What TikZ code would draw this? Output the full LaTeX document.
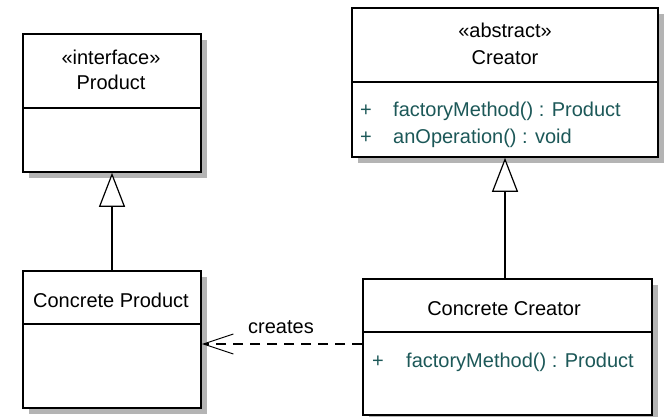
\documentclass[tikz,border=0pt]{standalone}
\usepackage{fontspec}
\setmainfont{Liberation Sans}
\usetikzlibrary{arrows.meta}
\definecolor{opcol}{RGB}{28,88,88}
\definecolor{shadowgray}{RGB}{180,180,180}
\tikzset{
  classbox/.style={draw=black, line width=1.6pt, fill=white, rectangle, inner sep=0pt},
  shadowbox/.style={fill=shadowgray},
  divider/.style={draw=black, line width=1.4pt},
  txt/.style={font=\fontsize{20}{24}\selectfont, inner sep=0pt, anchor=base},
  optxt/.style={txt, anchor=base west, text=opcol},
  inh/.style={draw=black, line width=1.4pt, -{Triangle[open, length=34pt, width=26pt, fill=white, line width=1.2pt]}},
  dep/.style={draw=black, line width=1.4pt, dash pattern=on 10pt off 7pt, -{Straight Barb[length=30pt, width=20pt, line width=1pt]}}
}
\begin{document}
\begin{tikzpicture}[x=1pt,y=-1pt]
\useasboundingbox (0,0) rectangle (669,417);
% shadows
\fill[shadowbox] (29,40) rectangle (207,178);
\fill[shadowbox] (29,277) rectangle (207,414);
\fill[shadowbox] (358,14) rectangle (664,163);
\fill[shadowbox] (369,285) rectangle (658,421);
% boxes
\node[classbox, minimum width=178pt, minimum height=138pt] (product) at (112,103) {};
\node[classbox, minimum width=178pt, minimum height=137pt] (cprod) at (112,339.5) {};
\node[classbox, minimum width=306pt, minimum height=149pt] (creator) at (505,82.5) {};
\node[classbox, minimum width=289pt, minimum height=136pt] (ccreator) at (507.5,347) {};
% dividers
\draw[divider] (product.west |- 0,108) -- (product.east |- 0,108);
\draw[divider] (cprod.west |- 0,324) -- (cprod.east |- 0,324);
\draw[divider] (creator.west |- 0,82) -- (creator.east |- 0,82);
\draw[divider] (ccreator.west |- 0,332) -- (ccreator.east |- 0,332);
% texts
\node[txt] (pst) at (111,65) {«interface»};
\node[txt] (pnm) at (111,90) {Product};
\node[txt] (cpnm) at (111,307) {Concrete Product};
\node[txt] (cst) at (505,38) {«abstract»};
\node[txt] (cnm) at (505,65) {Creator};
\node[optxt] (cp1) at (360,117) {+};
\node[optxt] (cm1) at (393,117) {factoryMethod() : Product};
\node[optxt] (cp2) at (360,143) {+};
\node[optxt] (cm2) at (393,143) {anOperation() : void};
\node[txt] (ccnm) at (504,315) {Concrete Creator};
\node[optxt] (ccp1) at (372,367) {+};
\node[optxt] (ccm1) at (406,367) {factoryMethod() : Product};
% connectors
\draw[inh] (cprod.north) -- (product.south);
\draw[inh] (creator.south |- ccreator.north) -- (creator.south);
\draw[dep] ([yshift=3pt]ccreator.west) -- ([yshift=3pt]ccreator.west -| cprod.east);
\node[txt] (creates) at (281,333) {creates};
\end{tikzpicture}
\end{document}
